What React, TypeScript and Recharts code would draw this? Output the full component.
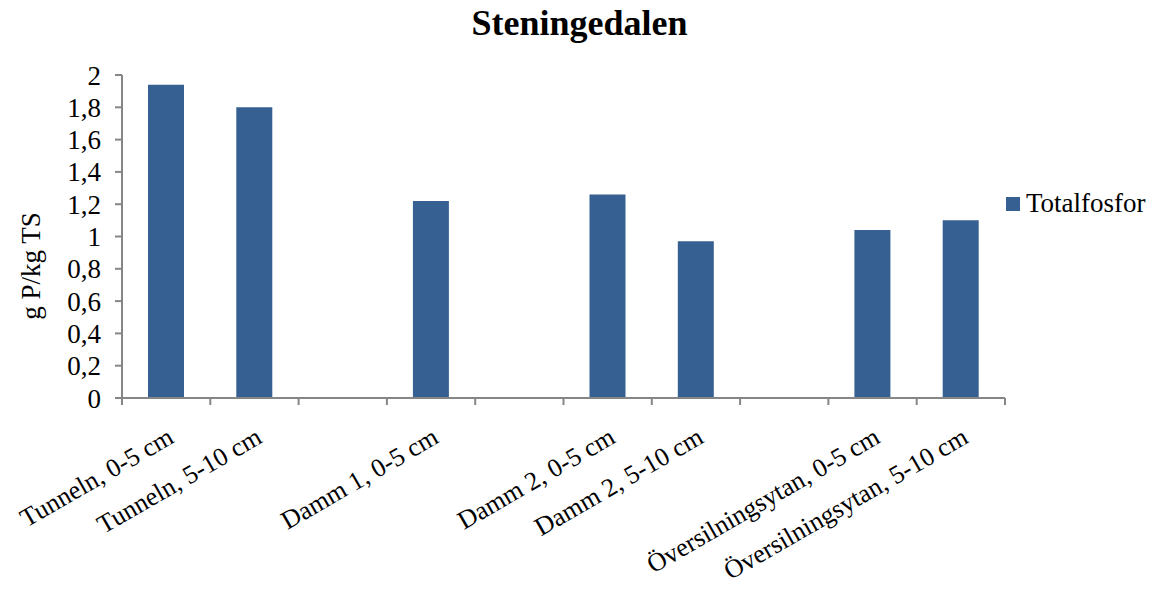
import { Bar, BarChart, Legend, XAxis, YAxis } from "recharts"

const categories = [
    'Tunneln, 0-5 cm',
    'Tunneln, 5-10 cm',
    '',
    'Damm 1, 0-5 cm',
    '',
    'Damm 2, 0-5 cm',
    'Damm 2, 5-10 cm',
    '',
    'Översilningsytan, 0-5 cm',
    'Översilningsytan, 5-10 cm',
];

const totalfosfor: (number | null)[] = [1.94, 1.80, null, 1.22, null, 1.26, 0.97, null, 1.04, 1.10];

const yTicks = [0, 0.2, 0.4, 0.6, 0.8, 1, 1.2, 1.4, 1.6, 1.8, 2];

const seriesName = 'Totalfosfor';
const chartTitle = 'Steningedalen';
const yTitle = 'g P/kg TS';

const FONT = "'Liberation Serif', 'Times New Roman', serif";
const AXIS = "#868686";
const BAR = "#366092";

const data = categories.map((label, i) => ({ label, value: totalfosfor[i] }));

function formatTick(v: number) {
    return String(Math.round(v * 10) / 10).replace('.', ',')
}

function CategoryTick(props: any) {
    const { x, y, payload, index } = props
    const half = payload && payload.offset ? payload.offset : 44
    const last = index === categories.length - 1
    return (
        <g>
            <line x1={x - half} x2={x - half} y1={y} y2={y + 7} stroke={AXIS} strokeWidth={2} />
            {last && <line x1={x + half} x2={x + half} y1={y} y2={y + 7} stroke={AXIS} strokeWidth={2} />}
            <text
                x={0}
                y={0}
                textAnchor="end"
                fontFamily={FONT}
                fontSize={26}
                fill="#000"
                transform={`translate(${x + 9},${y + 44}) rotate(-30)`}
            >
                {payload.value}
            </text>
        </g>
    )
}

function LegendBox() {
    return (
        <div style={{ display: 'flex', alignItems: 'center', fontFamily: FONT, fontSize: 27, color: '#000' }}>
            <span style={{ width: 14, height: 14, background: BAR, display: 'inline-block', marginRight: 6 }} />
            <span>{seriesName}</span>
        </div>
    )
}

function App() {
    return (
        <div style={{ position: 'absolute', left: 0, top: 0, width: 1159, height: 590, background: '#fff' }}>
            <div style={{
                position: 'absolute', left: 0, width: 1159, top: 2, textAlign: 'center',
                fontFamily: FONT, fontSize: 36, fontWeight: 'bold', color: '#000'
            }}>
                {chartTitle}
            </div>
            <BarChart
                width={1159}
                height={590}
                data={data}
                margin={{ top: 75, right: 154, bottom: 42, left: 0 }}
            >
                <XAxis
                    dataKey="label"
                    height={150}
                    interval={0}
                    tickLine={false}
                    tickSize={0}
                    tickMargin={0}
                    axisLine={{ stroke: AXIS, strokeWidth: 2 }}
                    tick={<CategoryTick />}
                />
                <YAxis
                    width={122}
                    domain={[0, 2]}
                    ticks={yTicks}
                    interval={0}
                    tickFormatter={formatTick}
                    tickSize={7}
                    tickMargin={14}
                    axisLine={{ stroke: AXIS, strokeWidth: 2 }}
                    tickLine={{ stroke: AXIS, strokeWidth: 2 }}
                    tick={{ fill: "#000", fontSize: 27, fontFamily: FONT }}
                    label={{
                        content: () => (
                            <text
                                x={0}
                                y={0}
                                textAnchor="middle"
                                fontFamily={FONT}
                                fontSize={27}
                                fill="#000"
                                transform="translate(40,266) rotate(-90)"
                            >
                                {yTitle}
                            </text>
                        )
                    }}
                />
                <Legend
                    layout="vertical"
                    align="center"
                    verticalAlign="middle"
                    content={<LegendBox />}
                    wrapperStyle={{ left: 1006, top: 188, width: 153 }}
                />
                <Bar
                    dataKey="value"
                    name={seriesName}
                    fill={BAR}
                    barSize={36}
                    isAnimationActive={false}
                />
            </BarChart>
        </div>
    )
}

export default App
